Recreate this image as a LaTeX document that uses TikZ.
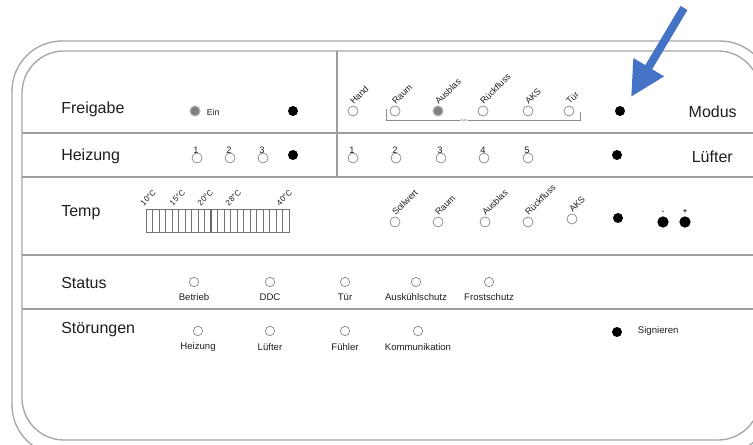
\documentclass[tikz,border=0pt]{standalone}
\usepackage{fontspec}
\setmainfont{Liberation Sans}
\usetikzlibrary{arrows.meta}
\definecolor{arrowblue}{HTML}{4472C4}
\definecolor{txt}{HTML}{1E1E1E}
\begin{document}
\begin{tikzpicture}[x=0.75pt,y=-0.75pt,
  framel/.style={draw=black!35, line width=1pt},
  sepl/.style={draw=black!38, line width=1pt},
  led/.style={circle, draw=black!45, line width=0.55pt, minimum size=7.5pt, inner sep=0pt},
  gled/.style={circle, fill=black!50, draw=black!30, line width=0.8pt, minimum size=7.5pt, inner sep=0pt},
  bdot/.style={circle, fill=black, minimum size=7.5pt, inner sep=0pt},
  big/.style={text=txt, font=\fontsize{12}{14}\selectfont, inner sep=0pt},
  small/.style={text=txt, font=\fontsize{7.2}{8}\selectfont, inner sep=0.5pt},
  rlab/.style={text=txt, font=\fontsize{6.7}{7}\selectfont, rotate=45, anchor=south west, inner sep=0.3pt},
  num/.style={text=txt, font=\fontsize{7}{8}\selectfont, inner sep=0pt, anchor=south}
]
\useasboundingbox (0,0) rectangle (753,445);
% frame
\draw[framel, rounded corners=37.5pt] (12,41) rectangle (770,455);
\draw[framel, rounded corners=31.5pt] (22,51) rectangle (760,440);
% separators
\draw[sepl] (22,133) -- (760,133);
\draw[sepl] (22,177) -- (760,177);
\draw[sepl] (22,255) -- (760,255);
\draw[sepl] (22,309) -- (760,309);
\draw[sepl] (337,51) -- (337,177);
% row labels
\node[big, anchor=west] (freigabe) at (61,109) {Freigabe};
\node[big, anchor=west] (heizung) at (61,156) {Heizung};
\node[big, anchor=west] (temp) at (61,213) {Temp};
\node[big, anchor=west] (status) at (61,283) {Status};
\node[big, anchor=west] (stoerungen) at (61,330) {Störungen};
\node[big, anchor=east] (modus) at (737,112) {Modus};
\node[big, anchor=east] (luefter) at (733,157) {Lüfter};
% Freigabe
\node[gled] (ein) at (195,111) {};
\node[small, anchor=west, font=\fontsize{6.5}{7}\selectfont] (einl) at (206,112) {Ein};
\node[bdot] (freidot) at (293,111) {};
% Modus
\foreach \nm/\x/\t in {mhand/353/Hand, mraum/395/Raum, mrueck/483/Rückfluss, maks/528/AKS, mtuer/569/Tür}{
  \node[led] (\nm) at (\x,111) {};
  \node[rlab] (\nm-l) at ([shift={(1,-5)}]\nm.center) {\t};
}
\node[gled] (mausb) at (438,111) {};
\node[rlab] (mausb-l) at ([shift={(1,-5)}]mausb.center) {Ausblas};
\coordinate (autoL) at (386,109);
\coordinate (autoR) at (580,112);
\draw[black!45, line width=0.6pt] (autoL) -- (386,120) -- (580,120) -- (autoR);
\node[fill=white, text=black!60, font=\fontsize{2.5}{3}\selectfont, inner sep=0.6pt] (auto) at (464,120) {Auto};
\node[bdot] (modusdot) at (620,111) {};
% Heizung
\foreach \nm/\x/\t in {h1/197/1, h2/230/2, h3/263/3}{
  \node[led] (\nm) at (\x,158) {};
  \node[num] (\nm-l) at ([shift={(-1,-4)}]\nm.center) {\t};
}
\node[bdot] (heizdot) at (293,155) {};
% Luefter
\foreach \nm/\x/\t in {l1/353/1, l2/396/2, l3/441/3, l4/484/4, l5/528/5}{
  \node[led] (\nm) at (\x,158) {};
  \node[num] (\nm-l) at ([shift={(-1,-4)}]\nm.center) {\t};
}
\node[bdot] (luefterdot) at (617,155) {};
% Temp bar
\draw[black!55, line width=0.6pt] (146,209) rectangle (289,232);
\foreach \i in {1,...,21}{
  \draw[black!55, line width=0.5pt] ({146+\i*6.5},209) -- ({146+\i*6.5},232);
}
\draw[black!60, line width=1pt] (211,209) -- (211,232);
\foreach \nm/\x/\t in {t10/144/10°C, t15/173/15°C, t20/201/20°C, t28/229/28°C, t40/280/40°C}{
  \node[rlab, font=\fontsize{6}{7}\selectfont] (\nm) at (\x,207) {\t};
}
% Temp LEDs
\foreach \nm/\x/\y/\t in {tsoll/395/222/Sollwert, traum/438/222/Raum, tausb/485/222/Ausblas, trueck/528/222/Rückfluss, taks/572/219/AKS}{
  \node[led] (\nm) at (\x,\y) {};
  \node[rlab] (\nm-l) at ([shift={(1,-5)}]\nm.center) {\t};
}
\node[bdot] (tempdot) at (618,218) {};
\node[bdot, minimum size=8.5pt] (minus) at (663,222) {};
\node[bdot, minimum size=8.5pt] (plus) at (685,222) {};
\node[font=\fontsize{5}{5}\selectfont\bfseries, inner sep=0pt] (minusl) at (663,212) {-};
\node[font=\fontsize{5}{5}\selectfont\bfseries, inner sep=0pt] (plusl) at (685,212) {+};
% Status
\foreach \nm/\x/\t in {sbetr/194/Betrieb, sddc/270/DDC, stuer/345/Tür, sausk/416/Auskühlschutz, sfrost/489/Frostschutz}{
  \node[led, minimum size=7pt] (\nm) at (\x,282) {};
  \node[small] (\nm-l) at (\x,297) {\t};
}
% Stoerungen
\foreach \nm/\x/\t in {fheiz/198/Heizung, fluef/270/Lüfter, ffuehl/345/Fühler, fkomm/418/Kommunikation}{
  \node[led, minimum size=7pt] (\nm) at (\x,331) {};
  \node[small] (\nm-l) at (\x,347) {\t};
}
\node[bdot] (sigdot) at (617,332) {};
\node[small, anchor=west] (sig) at (637,331) {Signieren};
% blue arrow
\coordinate (arrowtail) at (684,8);
\coordinate (arrowtip) at (631,97);
\draw[arrowblue, line width=6pt, -{Triangle[length=26pt,width=25pt]}] (arrowtail) -- (arrowtip);
\end{tikzpicture}
\end{document}
